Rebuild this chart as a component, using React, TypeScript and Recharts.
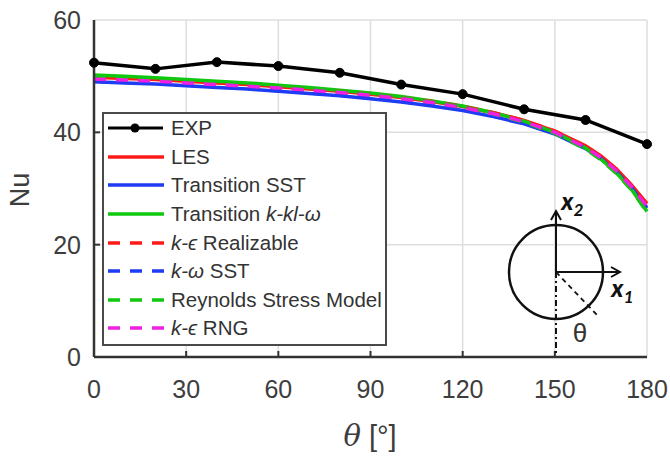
import { LineChart, Line, XAxis, YAxis, CartesianGrid } from 'recharts';

// angular positions of the simulated curves [deg]
const thetaSim = [0, 10, 20, 30, 40, 50, 60, 70, 80, 90, 100, 110, 120, 130, 140, 150, 160, 165, 170, 175, 180];

// experiment
const expTheta = [0, 20, 40, 60, 80, 100, 120, 140, 160, 180];
const expNu = [52.4, 51.3, 52.5, 51.8, 50.6, 48.5, 46.8, 44.1, 42.2, 37.9];

// simulations (Nu)
const nuLes = [49.8, 49.6, 49.4, 49.1, 48.8, 48.5, 48.1, 47.7, 47.3, 46.8, 46.2, 45.5, 44.6, 43.5, 42.1, 40.2, 37.6, 35.8, 33.5, 30.6, 27.3];
const nuTransSst = [49.0, 48.8, 48.6, 48.3, 48.0, 47.7, 47.3, 46.9, 46.5, 46.0, 45.4, 44.7, 43.9, 42.8, 41.5, 39.7, 37.1, 35.3, 33.0, 30.1, 26.5];
const nuKklw = [50.2, 50.0, 49.7, 49.4, 49.1, 48.8, 48.4, 48.0, 47.5, 47.0, 46.4, 45.6, 44.7, 43.5, 42.0, 40.0, 37.2, 35.2, 32.8, 29.8, 25.9];
const nuKeReal = [49.7, 49.5, 49.3, 49.0, 48.7, 48.4, 48.1, 47.7, 47.3, 46.8, 46.2, 45.5, 44.6, 43.5, 42.1, 40.2, 37.5, 35.7, 33.4, 30.5, 27.2];
const nuKwSst = [49.1, 48.9, 48.7, 48.4, 48.1, 47.8, 47.4, 47.0, 46.6, 46.1, 45.5, 44.8, 44.0, 42.9, 41.6, 39.8, 37.2, 35.4, 33.1, 30.2, 26.6];
const nuRsm = [50.0, 49.8, 49.5, 49.2, 48.9, 48.6, 48.2, 47.8, 47.3, 46.8, 46.2, 45.4, 44.5, 43.3, 41.8, 39.8, 37.0, 35.1, 32.7, 29.7, 25.8];
const nuKeRng = [49.5, 49.3, 49.1, 48.8, 48.5, 48.2, 47.9, 47.5, 47.1, 46.6, 46.0, 45.3, 44.4, 43.3, 41.9, 40.0, 37.3, 35.5, 33.2, 30.3, 26.8];

const xTicks = [0, 30, 60, 90, 120, 150, 180];
const yTicks = [0, 20, 40, 60];

const FONT = '"Liberation Sans", Arial, sans-serif';
const INK = '#3d3d3d';
const AXIS = '#333';
const RED = '#ff1a1a';
const BLUE = '#1f3cf5';
const GREEN = '#10c810';
const MAGENTA = '#f020e0';
const DASH = '12 10';

const simRows = thetaSim.map((t, i) => ({
  theta: t,
  les: nuLes[i],
  transSst: nuTransSst[i],
  kklw: nuKklw[i],
  keReal: nuKeReal[i],
  kwSst: nuKwSst[i],
  rsm: nuRsm[i],
  keRng: nuKeRng[i],
}));
const expRows = expTheta.map((t, i) => ({ theta: t, nu: expNu[i] }));

const it = (s: string) => <i>{s}</i>;

const series = [
  { key: 'les', color: RED, dash: undefined, label: <>LES</> },
  { key: 'transSst', color: BLUE, dash: undefined, label: <>Transition SST</> },
  { key: 'kklw', color: GREEN, dash: undefined, label: <>Transition {it('k-kl-ω')}</> },
  { key: 'keReal', color: RED, dash: DASH, label: <>{it('k-ϵ')} Realizable</> },
  { key: 'kwSst', color: BLUE, dash: DASH, label: <>{it('k-ω')} SST</> },
  { key: 'rsm', color: GREEN, dash: DASH, label: <>Reynolds Stress Model</> },
  { key: 'keRng', color: MAGENTA, dash: DASH, label: <>{it('k-ϵ')} RNG</> },
];

function BottomTick({ x, y, payload }: any) {
  const v = payload.value;
  return (
    <g>
      {v > 0 && v < 180 && <line x1={x} y1={y} x2={x} y2={y - 6} stroke={AXIS} strokeWidth={2} />}
      <text x={x} y={y + 41} textAnchor="middle" fontSize={25} fill={INK} fontFamily={FONT}>{v}</text>
    </g>
  );
}

function TopTick({ x, y, payload }: any) {
  const v = payload.value;
  if (v <= 0 || v >= 180) return <g />;
  return <line x1={x} y1={y} x2={x} y2={y + 6} stroke={AXIS} strokeWidth={2} />;
}

function LeftTick({ x, y, payload }: any) {
  const v = payload.value;
  return (
    <g>
      {v > 0 && v < 60 && <line x1={x} y1={y} x2={x + 6} y2={y} stroke={AXIS} strokeWidth={2} />}
      <text x={x - 13} y={y + 9} textAnchor="end" fontSize={25} fill={INK} fontFamily={FONT}>{v}</text>
    </g>
  );
}

function RightTick({ x, y, payload }: any) {
  const v = payload.value;
  if (v <= 0 || v >= 60) return <g />;
  return <line x1={x} y1={y} x2={x - 6} y2={y} stroke={AXIS} strokeWidth={2} />;
}

function LegendBox() {
  return (
    <div
      style={{
        position: 'absolute', left: 102, top: 112, width: 281, height: 230,
        border: '2px solid #4a4a4a', background: '#fff', fontFamily: FONT,
        fontSize: 20.5, color: '#333', paddingTop: 0,
      }}
    >
      <div style={{ display: 'flex', alignItems: 'center', height: 28.6 }}>
        <svg width={57} height={20} style={{ marginLeft: 4 }}>
          <line x1={0} y1={10} x2={55} y2={10} stroke="#000" strokeWidth={3} />
          <circle cx={27} cy={10} r={4.5} fill="#000" />
        </svg>
        <span style={{ marginLeft: 6 }}>EXP</span>
      </div>
      {series.map((s) => (
        <div key={s.key} style={{ display: 'flex', alignItems: 'center', height: 28.6 }}>
          <svg width={57} height={20} style={{ marginLeft: 4 }}>
            <line x1={0} y1={10} x2={56} y2={10} stroke={s.color} strokeWidth={3.5} strokeDasharray={s.dash} />
          </svg>
          <span style={{ marginLeft: 6, whiteSpace: 'nowrap' }}>{s.label}</span>
        </div>
      ))}
    </div>
  );
}

function Inset() {
  const cx = 556;
  const cy = 272;
  return (
    <svg width={670} height={457} style={{ position: 'absolute', left: 0, top: 0, pointerEvents: 'none' }}>
      <circle cx={cx} cy={cy} r={47} fill="none" stroke="#111" strokeWidth={2.5} />
      <line x1={cx} y1={cy} x2={cx} y2={211} stroke="#111" strokeWidth={2} />
      <polyline points={`${cx - 5},${220} ${cx},${211} ${cx + 5},${220}`} fill="none" stroke="#111" strokeWidth={2} />
      <line x1={cx} y1={cy} x2={620} y2={cy} stroke="#111" strokeWidth={2} />
      <polyline points={`611,${cy - 5} 620,${cy} 611,${cy + 5}`} fill="none" stroke="#111" strokeWidth={2} />
      <line x1={cx} y1={cy} x2={cx} y2={356} stroke="#111" strokeWidth={2} strokeDasharray="6 3 2 3" />
      <line x1={cx} y1={cy} x2={598} y2={316} stroke="#111" strokeWidth={1.8} strokeDasharray="5 4" />
      <text x={561} y={210} fontSize={27} fontWeight="bold" fontStyle="italic" fill="#111" fontFamily="Carlito, Calibri, 'Liberation Sans', sans-serif">
        x<tspan fontSize={18} dy={6}>2</tspan>
      </text>
      <text x={611} y={297} fontSize={27} fontWeight="bold" fontStyle="italic" fill="#111" fontFamily="Carlito, Calibri, 'Liberation Sans', sans-serif">
        x<tspan fontSize={18} dy={6}>1</tspan>
      </text>
      <text x={580} y={342} fontSize={26} textAnchor="middle" fill="#333" fontFamily={FONT}>θ</text>
    </svg>
  );
}

export default function App() {
  return (
    <div style={{ position: 'absolute', left: 0, top: 0, width: 670, height: 457, background: '#fff' }}>
      <LineChart width={670} height={457} margin={{ top: 20, right: 23, left: 0, bottom: 0 }}>
        <CartesianGrid stroke="#dedede" strokeWidth={1.5} />
        <XAxis
          dataKey="theta" type="number" domain={[0, 180]} ticks={xTicks} interval={0}
          height={100} tickSize={0} tickMargin={0} tickLine={false}
          axisLine={{ stroke: AXIS, strokeWidth: 2.5 }} tick={(p: any) => <BottomTick {...p} />}
          label={{
            content: () => (
              <text x={370} y={446} textAnchor="middle" fontSize={29} fill={INK} fontFamily={FONT}>
                <tspan fontStyle="italic" fontFamily="'DejaVu Serif', serif">θ</tspan> [°]
              </text>
            ),
          }}
        />
        <XAxis
          xAxisId="top" orientation="top" type="number" domain={[0, 180]} ticks={xTicks} interval={0}
          height={0} tickSize={0} tickMargin={0} tickLine={false}
          axisLine={{ stroke: AXIS, strokeWidth: 2.5 }} tick={(p: any) => <TopTick {...p} />}
        />
        <YAxis
          type="number" domain={[0, 60]} ticks={yTicks} interval={0} width={94}
          tickSize={0} tickMargin={0} tickLine={false}
          axisLine={{ stroke: AXIS, strokeWidth: 2.5 }} tick={(p: any) => <LeftTick {...p} />}
          label={{
            content: () => (
              <text x={29} y={190} textAnchor="middle" fontSize={27} fill={INK} fontFamily={FONT} transform="rotate(-90, 29, 190)">
                Nu
              </text>
            ),
          }}
        />
        <YAxis
          yAxisId="right" orientation="right" type="number" domain={[0, 60]} ticks={yTicks} interval={0} width={0}
          tickSize={0} tickMargin={0} tickLine={false}
          axisLine={{ stroke: AXIS, strokeWidth: 2.5 }} tick={(p: any) => <RightTick {...p} />}
        />
        {series.map((s) => (
          <Line
            key={s.key} data={simRows} dataKey={s.key} stroke={s.color} strokeWidth={3.5}
            strokeDasharray={s.dash} dot={false} isAnimationActive={false}
          />
        ))}
        <Line
          data={expRows} dataKey="nu" stroke="#000" strokeWidth={3.5}
          dot={{ r: 4.5, fill: '#000', stroke: '#000', strokeWidth: 1 }} isAnimationActive={false}
        />
      </LineChart>
      <LegendBox />
      <Inset />
    </div>
  );
}
